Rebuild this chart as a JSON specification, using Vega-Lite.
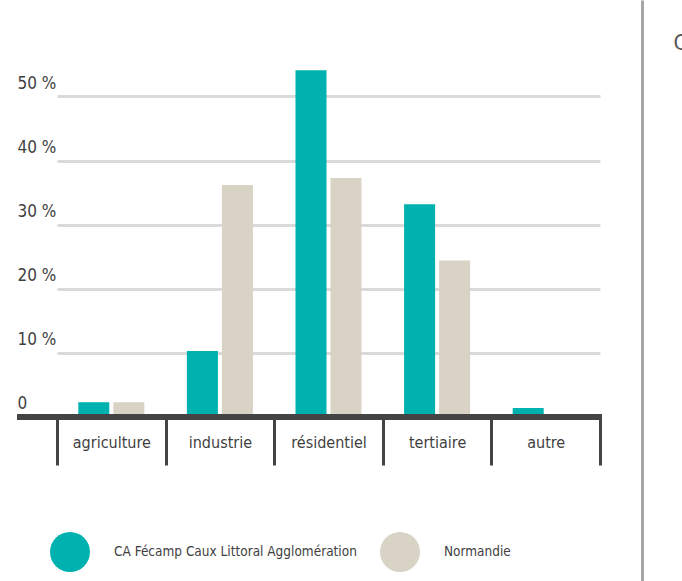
{
  "$schema": "https://vega.github.io/schema/vega-lite/v6.json",
  "autosize": {"type": "none"},
  "padding": {"left": 17, "top": 0, "right": 80, "bottom": 0},
  "width": 585,
  "height": 581,
  "background": "white",
  "config": {"view": {"stroke": null}},
  "data": {"values": [
    {"cat": "agriculture", "serie": "CA Fécamp Caux Littoral Agglomération", "value": 2.3},
    {"cat": "agriculture", "serie": "Normandie", "value": 2.3},
    {"cat": "industrie", "serie": "CA Fécamp Caux Littoral Agglomération", "value": 10.3},
    {"cat": "industrie", "serie": "Normandie", "value": 36.2},
    {"cat": "résidentiel", "serie": "CA Fécamp Caux Littoral Agglomération", "value": 54.1},
    {"cat": "résidentiel", "serie": "Normandie", "value": 37.3},
    {"cat": "tertiaire", "serie": "CA Fécamp Caux Littoral Agglomération", "value": 33.2},
    {"cat": "tertiaire", "serie": "Normandie", "value": 24.4},
    {"cat": "autre", "serie": "CA Fécamp Caux Littoral Agglomération", "value": 1.4},
    {"cat": "autre", "serie": "Normandie", "value": 0}
  ]},
  "resolve": {"axis": {"y": "independent"}},
  "layer": [
    {
      "mark": {"type": "bar"},
      "encoding": {
        "x": {
          "field": "cat", "type": "nominal",
          "sort": ["agriculture", "industrie", "résidentiel", "tertiaire", "autre"],
          "scale": {"range": [40, 583], "paddingInner": 0, "paddingOuter": 0},
          "axis": {
            "title": null, "orient": "bottom", "offset": -164,
            "domain": false, "tickBand": "extent", "tickSize": 48, "tickWidth": 3, "tickColor": "#444444",
            "labelPadding": -18, "labelBaseline": "alphabetic", "labelAngle": 0,
            "labelFont": "DejaVu Sans Condensed, Liberation Sans, sans-serif", "labelFontSize": 16, "labelColor": "#3f3f3f"
          }
        },
        "xOffset": {
          "field": "serie", "type": "nominal",
          "sort": ["CA Fécamp Caux Littoral Agglomération", "Normandie"],
          "scale": {"paddingInner": 0.114, "paddingOuter": 0.608}
        },
        "y": {
          "field": "value", "type": "quantitative",
          "scale": {"domain": [-25.59, 65.05], "nice": false, "zero": false},
          "axis": {
            "title": null, "orient": "left", "values": [0, 10, 20, 30, 40, 50],
            "labelExpr": "datum.value == 0 ? '0' : datum.value + ' %'",
            "domain": false, "ticks": false, "labelPadding": 0, "labelAlign": "left",
            "labelBaseline": "alphabetic", "labelOffset": -8,
            "labelFont": "DejaVu Sans Condensed, Liberation Sans, sans-serif", "labelFontSize": 17, "labelColor": "#3f3f3f",
            "grid": true, "gridColor": "#dadada", "gridWidth": 3
          }
        },
        "color": {
          "field": "serie", "type": "nominal",
          "scale": {"domain": ["CA Fécamp Caux Littoral Agglomération", "Normandie"], "range": ["#00b2af", "#d9d3c6"]},
          "legend": {
            "title": null, "orient": "none", "legendX": 33, "legendY": 532, "direction": "horizontal",
            "padding": 0, "symbolType": "circle", "symbolSize": 1600, "symbolStrokeWidth": 0,
            "labelOffset": 24, "columnPadding": 23, "labelLimit": 400,
            "labelFont": "DejaVu Sans Condensed, Liberation Sans, sans-serif", "labelFontSize": 13.5, "labelColor": "#3f3f3f"
          }
        }
      }
    },
    {
      "mark": {"type": "rule", "color": "#444444", "strokeWidth": 6},
      "encoding": {
        "y": {
          "datum": 0, "type": "quantitative",
          "axis": {
            "orient": "right", "offset": 40, "domain": true, "domainColor": "#a6a6a6", "domainWidth": 3,
            "labels": false, "ticks": false, "grid": false,
            "title": "C", "titleAngle": 0, "titleX": 31, "titleY": 49, "titleAlign": "left",
            "titleBaseline": "alphabetic", "titleFont": "DejaVu Sans Condensed, Liberation Sans, sans-serif", "titleFontSize": 22,
            "titleFontWeight": "normal", "titleColor": "#555555"
          }
        }
      }
    }
  ]
}
